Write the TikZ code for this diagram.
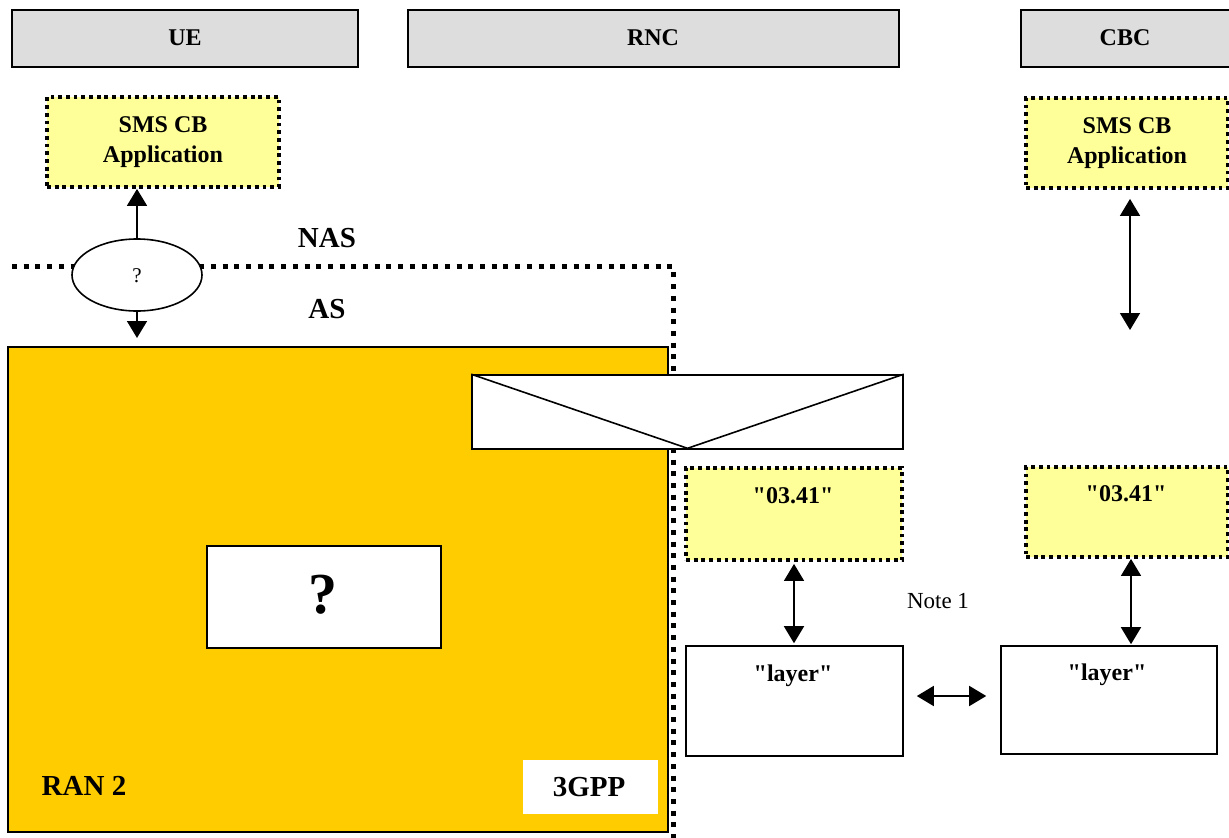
\documentclass[tikz,border=0pt]{standalone}
\usepackage{fontspec}
\setmainfont{Liberation Serif}[Ligatures=TeXOff]
\usetikzlibrary{arrows.meta,shapes.geometric,calc}

\definecolor{hdrgray}{HTML}{DDDDDD}
\definecolor{appyellow}{HTML}{FFFF99}
\definecolor{ranorange}{HTML}{FFCC00}

\tikzset{
  px/.style={x=1pt,y=-1pt},
  hdrbox/.style={draw, fill=hdrgray, line width=1.6pt, inner sep=0pt},
  appbox/.style={draw, fill=appyellow, line width=3.8pt, dash pattern=on 3.8pt off 3.9pt,
                 inner sep=0pt, align=center, font=\fontsize{24}{30}\selectfont\bfseries},
  plainbox/.style={draw, fill=white, line width=1.6pt, inner sep=0pt},
  boldtxt/.style={font=\fontsize{24}{29}\selectfont\bfseries, inner sep=0pt, anchor=base},
  bigtxt/.style={font=\fontsize{29}{34}\selectfont\bfseries, inner sep=0pt, anchor=base},
  plaintxt/.style={font=\fontsize{23}{28}\selectfont, inner sep=0pt, anchor=base},
  layerline/.style={line width=5pt, dash pattern=on 5pt off 6.7pt},
  biarrow/.style={line width=1.6pt, {Triangle[width=20pt,length=17pt]}-{Triangle[width=20pt,length=17pt]}},
  uparrow/.style={line width=1.6pt, -{Triangle[width=20pt,length=17pt]}},
}

% box node from its corner coordinates: name, style, x1, y1, x2, y2
\newcommand{\boxat}[6]{%
  \node[#2, minimum width={(#5-#3)*1pt}, minimum height={(#6-#4)*1pt}] (#1) at ({(#3+#5)/2},{(#4+#6)/2}) {};}

\begin{document}
\begin{tikzpicture}[px]
\useasboundingbox (0,0) rectangle (1229,838);

% column headers
\boxat{hUE}{hdrbox}{12}{10}{358}{67}
\boxat{hRNC}{hdrbox}{408}{10}{899}{67}
\boxat{hCBC}{hdrbox}{1021}{10}{1240}{67}
\node[boldtxt] (tUE) at (185,45) {UE};
\node[boldtxt] (tRNC) at (653,45) {RNC};
\node[boldtxt] (tCBC) at (1125,45) {CBC};

% SMS CB applications
\node[appbox, minimum width=232pt, minimum height=90pt] (ueapp) at (163,142) {SMS CB\\Application};
\node[appbox, minimum width=202pt, minimum height=90pt] (cbcapp) at (1127,143) {SMS CB\\Application};

% RAN 2 area
\boxat{ran}{plainbox, fill=ranorange}{8}{347}{668}{832}
\node[bigtxt] (tRAN) at (84,795) {RAN 2};
\node[fill=white, inner sep=0pt, minimum width=135pt, minimum height=54pt] (gpp) at (590.5,787) {};
\node[bigtxt] (tGPP) at (589,796) {3GPP};
\boxat{qbox}{plainbox}{207}{546}{441}{648}
\node[font=\fontsize{58}{60}\selectfont\bfseries, inner sep=0pt, anchor=base] (tq) at (323,613) {?};

% NAS / AS boundary
\coordinate (nasStart) at (12,266.5);
\coordinate (nasCorner) at (673,266.5);
\coordinate (nasEnd) at (673,845);
\draw[layerline] (nasStart) -- (nasCorner) -- (nasEnd);
\node[font=\fontsize{29}{34}\selectfont\bfseries, inner sep=0pt, anchor=base] (tNAS) at (327,247) {NAS};
\node[font=\fontsize{29}{34}\selectfont\bfseries, inner sep=0pt, anchor=base] (tAS) at (327,318) {AS};

% service access point
\node[ellipse, draw, fill=white, line width=1.6pt, minimum width=130pt, minimum height=72pt, inner sep=0pt] (sap) at (137,275) {};
\node[font=\fontsize{21}{24}\selectfont, inner sep=0pt, anchor=base] (tsap) at (137,282) {?};
\draw[uparrow] (sap.north) -- (sap.north |- ueapp.south);
\coordinate (ranIn) at (137,338);
\draw[uparrow] (sap.south) -- (ranIn);

% interface between RAN and RNC
\boxat{env}{plainbox}{472}{375}{903}{449}
\draw[line width=1.6pt] (env.north west) -- ([yshift=1.5pt]env.south) -- (env.north east);

% "03.41" entities
\boxat{fL}{appbox}{686}{468}{902}{560}
\boxat{fR}{appbox}{1026}{467}{1228}{557}
\node[boldtxt] (tfL) at (793,503) {"03.41"};
\node[boldtxt] (tfR) at (1126,501) {"03.41"};

% "layer" entities
\boxat{lL}{plainbox}{686}{646}{903}{756}
\boxat{lR}{plainbox}{1001}{646}{1217}{754}
\node[boldtxt] (tlL) at (793,681) {"layer"};
\node[boldtxt] (tlR) at (1107,680) {"layer"};

% connections
\coordinate (xL) at (794,0);
\coordinate (xR) at (1131,0);
\coordinate (hmid) at (950,696);
\coordinate (cbcLow) at (1130,330);
\draw[biarrow, shorten <=2pt, shorten >=2pt] (fL.south -| xL) -- (lL.north -| xL);
\draw[biarrow, shorten >=1pt] (fR.south -| xR) -- (lR.north -| xR);
\draw[biarrow, shorten <=13pt, shorten >=14pt] (lL.east |- hmid) -- (lR.west |- hmid);
\draw[biarrow] ([yshift=-9pt]cbcapp.south -| cbcLow) -- (cbcLow);

\node[plaintxt] (note) at (938,608) {Note 1};
\end{tikzpicture}
\end{document}
